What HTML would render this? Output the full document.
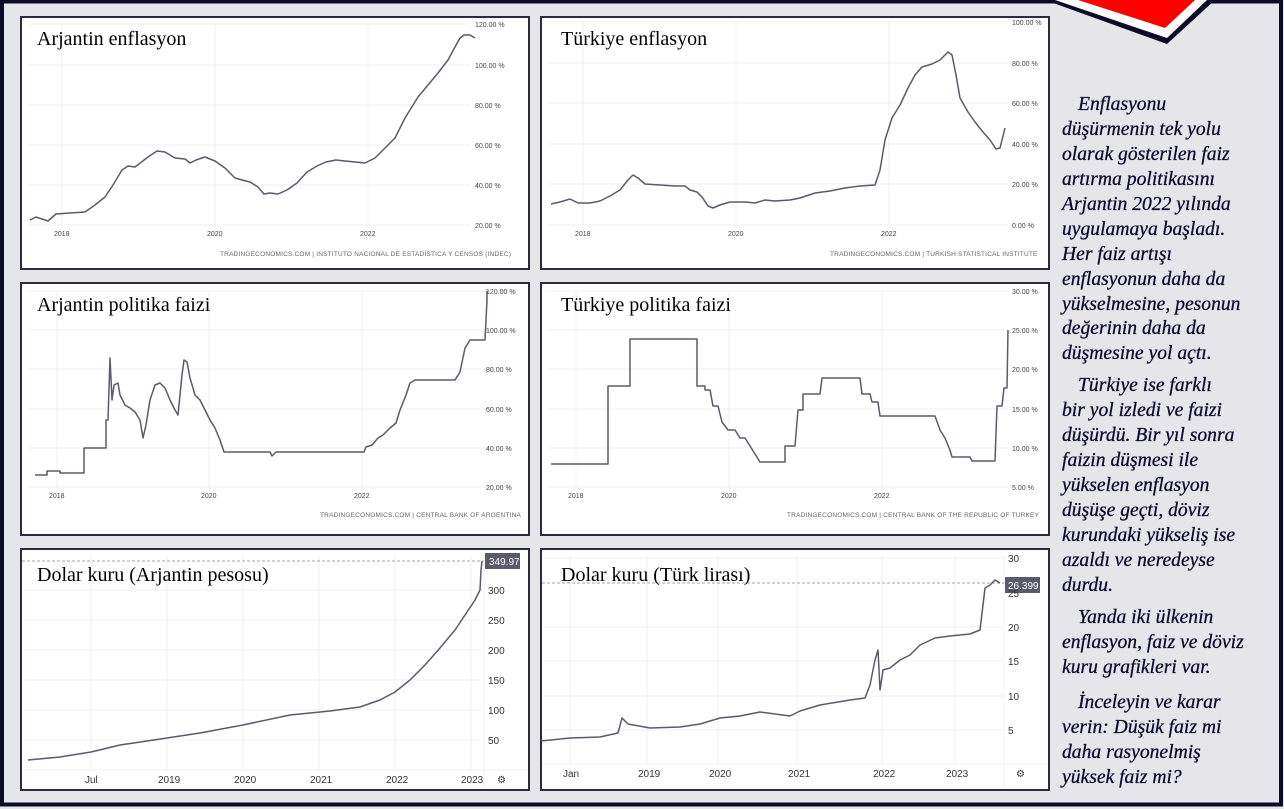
<!DOCTYPE html>
<html><head><meta charset="utf-8"><style>
html,body{margin:0;padding:0;background:#e6e6ea;}
svg{display:block}
.t{font-family:"Liberation Serif",serif;font-size:20px;fill:#000}
.a{font-family:"Liberation Sans",sans-serif;font-size:7px;fill:#444}
.b{font-family:"Liberation Sans",sans-serif;font-size:10px;fill:#333}
.s{font-family:"Liberation Sans",sans-serif;font-size:6.5px;fill:#666;letter-spacing:0.2px}
.r{font-family:"Liberation Serif",serif;font-style:italic;font-size:19.6px;fill:#0c0c30;stroke:#0c0c30;stroke-width:0.3}
.ln{fill:none;stroke:#5a5a6e;stroke-width:1.5;stroke-linejoin:round}
.g{stroke:#f0f0f0;stroke-width:1}
</style></head><body>
<svg width="1284" height="809" viewBox="0 0 1284 809">
<rect x="0" y="0" width="1284" height="809" fill="#e6e6ea"/>
<rect x="2" y="1.5" width="1279" height="803" fill="none" stroke="#0c0c28" stroke-width="4"/>
<polygon points="1045,0 1167,44 1215,0" fill="#0c0c28"/>
<polygon points="1055,0 1167,38 1207,0" fill="#fff"/>
<polygon points="1078,0 1165,28 1195,0" fill="#f00"/>
<g fill="#fff" stroke="#2a2a40" stroke-width="2">
<rect x="21" y="17" width="508" height="252"/>
<rect x="541" y="17" width="508" height="252"/>
<rect x="21" y="283" width="508" height="252"/>
<rect x="541" y="283" width="508" height="252"/>
<rect x="21" y="549" width="508" height="241"/>
<rect x="541" y="549" width="508" height="241"/>
</g>
<!-- P1 -->
<g class="g"><line x1="28" y1="24" x2="470" y2="24"/><line x1="28" y1="65" x2="470" y2="65"/><line x1="28" y1="105" x2="470" y2="105"/><line x1="28" y1="145" x2="470" y2="145"/><line x1="28" y1="185" x2="470" y2="185"/><line x1="28" y1="225" x2="470" y2="225"/><line x1="62" y1="24" x2="62" y2="228"/><line x1="215" y1="24" x2="215" y2="228"/><line x1="368" y1="24" x2="368" y2="228"/></g>
<polyline class="ln" points="30,220 36,217 48,221 56,214 70,213 85,212 95,205 105,197 113,185 122,170 128,166 135,167 148,157 157,151 165,152 175,158 185,159 190,163 196,160 205,157 215,161 225,168 235,178 242,180 250,182 258,187 264,194 270,193 278,194 287,190 297,183 307,172 317,166 326,162 336,160 345,161 355,162 365,163 375,158 385,148 395,138 405,118 418,97 428,85 438,73 448,60 455,47 460,38 464,35 470,35 475,38"/>
<text class="t" x="37" y="45">Arjantin enflasyon</text>
<g class="a"><text x="475" y="27">120.00 %</text><text x="475" y="68">100.00 %</text><text x="475" y="108">80.00 %</text><text x="475" y="148">60.00 %</text><text x="475" y="188">40.00 %</text><text x="475" y="228">20.00 %</text><text x="54" y="236">2018</text><text x="207" y="236">2020</text><text x="360" y="236">2022</text></g>
<text class="s" x="220" y="256">TRADINGECONOMICS.COM | INSTITUTO NACIONAL DE ESTADÍSTICA Y CENSOS (INDEC)</text>
<!-- P2 -->
<g class="g"><line x1="548" y1="22" x2="1008" y2="22"/><line x1="548" y1="63" x2="1008" y2="63"/><line x1="548" y1="103" x2="1008" y2="103"/><line x1="548" y1="144" x2="1008" y2="144"/><line x1="548" y1="184" x2="1008" y2="184"/><line x1="548" y1="225" x2="1008" y2="225"/><line x1="583" y1="22" x2="583" y2="228"/><line x1="736" y1="22" x2="736" y2="228"/><line x1="889" y1="22" x2="889" y2="228"/></g>
<polyline class="ln" points="551,204 560,202 570,199 578,203 590,203 600,201 610,196 620,190 628,180 633,175 638,178 645,184 660,185 675,186 685,186 690,190 697,192 702,197 708,206 713,208 720,205 730,202 745,202 755,203 765,200 775,201 790,200 800,198 815,193 830,191 845,188 860,186 875,185 880,170 885,140 892,118 900,105 908,88 915,75 922,67 932,64 940,60 948,52 952,55 956,75 960,98 968,112 975,122 983,132 990,140 996,149 1000,148 1005,128"/>
<text class="t" x="561" y="45">Türkiye enflasyon</text>
<g class="a"><text x="1012" y="25">100.00 %</text><text x="1012" y="66">80.00 %</text><text x="1012" y="106">60.00 %</text><text x="1012" y="147">40.00 %</text><text x="1012" y="187">20.00 %</text><text x="1012" y="228">0.00 %</text><text x="575" y="236">2018</text><text x="728" y="236">2020</text><text x="881" y="236">2022</text></g>
<text class="s" x="830" y="256">TRADINGECONOMICS.COM | TURKISH STATISTICAL INSTITUTE</text>
<!-- P3 -->
<g class="g"><line x1="28" y1="291" x2="490" y2="291"/><line x1="28" y1="330" x2="490" y2="330"/><line x1="28" y1="369" x2="490" y2="369"/><line x1="28" y1="409" x2="490" y2="409"/><line x1="28" y1="448" x2="490" y2="448"/><line x1="28" y1="487" x2="490" y2="487"/><line x1="57" y1="291" x2="57" y2="490"/><line x1="209" y1="291" x2="209" y2="490"/><line x1="362" y1="291" x2="362" y2="490"/></g>
<polyline class="ln" stroke-width="1.3" points="35,475 47,475 47,471 60,471 60,473 84,473 84,448 106,448 106,420 108,420 110,358 112,400 114,385 118,383 120,395 125,405 130,408 135,412 140,420 143,438 146,425 150,400 155,385 160,383 165,388 170,400 175,410 178,415 180,395 182,375 184,360 187,362 190,378 195,395 200,400 205,410 210,420 215,428 220,440 224,452 270,452 272,456 276,452 364,452 366,447 372,445 378,438 383,435 390,428 396,423 400,410 406,395 410,383 415,380 455,380 460,372 465,348 470,340 485,340 487,300 487,291"/>
<text class="t" x="37" y="311">Arjantin politika faizi</text>
<g class="a"><text x="486" y="294">120.00 %</text><text x="486" y="333">100.00 %</text><text x="486" y="372">80.00 %</text><text x="486" y="412">60.00 %</text><text x="486" y="451">40.00 %</text><text x="486" y="490">20.00 %</text><text x="49" y="498">2018</text><text x="201" y="498">2020</text><text x="354" y="498">2022</text></g>
<text class="s" x="320" y="517" font-size="6">TRADINGECONOMICS.COM | CENTRAL BANK OF ARGENTINA</text>
<!-- P4 -->
<g class="g"><line x1="548" y1="291" x2="1008" y2="291"/><line x1="548" y1="330" x2="1008" y2="330"/><line x1="548" y1="369" x2="1008" y2="369"/><line x1="548" y1="409" x2="1008" y2="409"/><line x1="548" y1="448" x2="1008" y2="448"/><line x1="548" y1="487" x2="1008" y2="487"/><line x1="576" y1="291" x2="576" y2="490"/><line x1="729" y1="291" x2="729" y2="490"/><line x1="882" y1="291" x2="882" y2="490"/></g>
<polyline class="ln" stroke-width="1.3" points="551,464 608,464 608,386 630,386 630,339 697,339 697,386 705,386 705,390 710,390 713,406 718,406 722,422 728,430 735,430 740,438 745,438 750,446 755,454 760,462 785,462 785,446 795,446 798,410 803,410 803,394 820,394 822,378 860,378 862,394 870,394 872,402 878,402 880,416 935,416 940,430 945,438 950,450 952,457 970,457 972,461 995,461 997,406 1002,406 1004,388 1007,388 1008,330"/>
<text class="t" x="561" y="311">Türkiye politika faizi</text>
<g class="a"><text x="1012" y="294">30.00 %</text><text x="1012" y="333">25.00 %</text><text x="1012" y="372">20.00 %</text><text x="1012" y="412">15.00 %</text><text x="1012" y="451">10.00 %</text><text x="1012" y="490">5.00 %</text><text x="568" y="498">2018</text><text x="721" y="498">2020</text><text x="874" y="498">2022</text></g>
<text class="s" x="787" y="517" font-size="6">TRADINGECONOMICS.COM | CENTRAL BANK OF THE REPUBLIC OF TURKEY</text>
<!-- P5 -->
<g class="g"><line x1="22" y1="590" x2="482" y2="590"/><line x1="22" y1="620" x2="482" y2="620"/><line x1="22" y1="650" x2="482" y2="650"/><line x1="22" y1="680" x2="482" y2="680"/><line x1="22" y1="710" x2="482" y2="710"/><line x1="22" y1="740" x2="482" y2="740"/><line x1="91" y1="555" x2="91" y2="770"/><line x1="167" y1="555" x2="167" y2="770"/><line x1="243" y1="555" x2="243" y2="770"/><line x1="319" y1="555" x2="319" y2="770"/><line x1="395" y1="555" x2="395" y2="770"/><line x1="471" y1="555" x2="471" y2="770"/><line x1="484" y1="555" x2="484" y2="789"/><line x1="22" y1="770" x2="528" y2="770"/></g>
<line x1="22" y1="561" x2="484" y2="561" stroke="#888" stroke-dasharray="3,2" stroke-width="0.8"/>
<polyline class="ln" stroke-width="1.3" points="28,760 60,757 91,752 120,745 167,738 200,733 243,725 290,715 330,711 360,707 380,700 395,692 410,680 425,665 440,648 455,630 465,615 475,600 480,590 481,570 482,561"/>
<rect x="485" y="553" width="35" height="16" fill="#5a5a6a"/>
<text x="489" y="565" font-family="Liberation Sans,sans-serif" font-size="10" fill="#fff">349.97</text>
<text class="t" x="37" y="581">Dolar kuru (Arjantin pesosu)</text>
<g class="b"><text x="488" y="594">300</text><text x="488" y="624">250</text><text x="488" y="654">200</text><text x="488" y="684">150</text><text x="488" y="714">100</text><text x="488" y="744">50</text><text x="85" y="783">Jul</text><text x="158" y="783">2019</text><text x="234" y="783">2020</text><text x="310" y="783">2021</text><text x="386" y="783">2022</text><text x="461" y="783">2023</text><text x="497" y="783">⚙</text></g>
<!-- P6 -->
<g class="g"><line x1="542" y1="558" x2="1003" y2="558"/><line x1="542" y1="627" x2="1003" y2="627"/><line x1="542" y1="661" x2="1003" y2="661"/><line x1="542" y1="696" x2="1003" y2="696"/><line x1="542" y1="730" x2="1003" y2="730"/><line x1="570" y1="555" x2="570" y2="764"/><line x1="647" y1="555" x2="647" y2="764"/><line x1="718" y1="555" x2="718" y2="764"/><line x1="797" y1="555" x2="797" y2="764"/><line x1="882" y1="555" x2="882" y2="764"/><line x1="955" y1="555" x2="955" y2="764"/><line x1="1004" y1="555" x2="1004" y2="789"/><line x1="542" y1="764" x2="1048" y2="764"/></g>
<line x1="542" y1="583" x2="1004" y2="583" stroke="#888" stroke-dasharray="3,2" stroke-width="0.8"/>
<polyline class="ln" stroke-width="1.2" points="541,741 570,738 600,737 618,733 622,718 628,724 650,728 680,727 700,724 720,718 740,716 760,712 790,716 800,711 820,705 850,700 865,698 870,685 875,660 878,650 880,690 883,670 890,668 900,660 910,655 920,645 935,638 950,636 970,634 980,630 985,588 990,585 995,580 1000,583"/>
<rect x="1005" y="577" width="35" height="16" fill="#5a5a6a"/>
<text x="1008" y="589" font-family="Liberation Sans,sans-serif" font-size="10" fill="#fff">26.399</text>
<text class="t" x="561" y="581">Dolar kuru (Türk lirası)</text>
<g class="b"><text x="1008" y="562">30</text><text x="1008" y="597">25</text><text x="1008" y="631">20</text><text x="1008" y="665">15</text><text x="1008" y="700">10</text><text x="1008" y="734">5</text><text x="563" y="777">Jan</text><text x="638" y="777">2019</text><text x="709" y="777">2020</text><text x="788" y="777">2021</text><text x="873" y="777">2022</text><text x="946" y="777">2023</text><text x="1016" y="777">⚙</text></g>
<!-- right text -->
<g class="r">
<text x="1078" y="110">Enflasyonu</text>
<text x="1062" y="135">düşürmenin tek yolu</text>
<text x="1062" y="160">olarak gösterilen faiz</text>
<text x="1062" y="185">artırma politikasını</text>
<text x="1062" y="210">Arjantin 2022 yılında</text>
<text x="1062" y="235">uygulamaya başladı.</text>
<text x="1062" y="260">Her faiz artışı</text>
<text x="1062" y="285">enflasyonun daha da</text>
<text x="1062" y="310">yükselmesine, pesonun</text>
<text x="1062" y="334">değerinin daha da</text>
<text x="1062" y="359">düşmesine yol açtı.</text>
<text x="1078" y="391">Türkiye ise farklı</text>
<text x="1062" y="416">bir yol izledi ve faizi</text>
<text x="1062" y="441">düşürdü. Bir yıl sonra</text>
<text x="1062" y="466">faizin düşmesi ile</text>
<text x="1062" y="491">yükselen enflasyon</text>
<text x="1062" y="516">düşüşe geçti, döviz</text>
<text x="1062" y="541">kurundaki yükseliş ise</text>
<text x="1062" y="566">azaldı ve neredeyse</text>
<text x="1062" y="591">durdu.</text>
<text x="1078" y="623">Yanda iki ülkenin</text>
<text x="1062" y="648">enflasyon, faiz ve döviz</text>
<text x="1062" y="673">kuru grafikleri var.</text>
<text x="1078" y="708">İnceleyin ve karar</text>
<text x="1062" y="733">verin: Düşük faiz mi</text>
<text x="1062" y="758">daha rasyonelmiş</text>
<text x="1062" y="783">yüksek faiz mi?</text>
</g>
</svg>
</body></html>
